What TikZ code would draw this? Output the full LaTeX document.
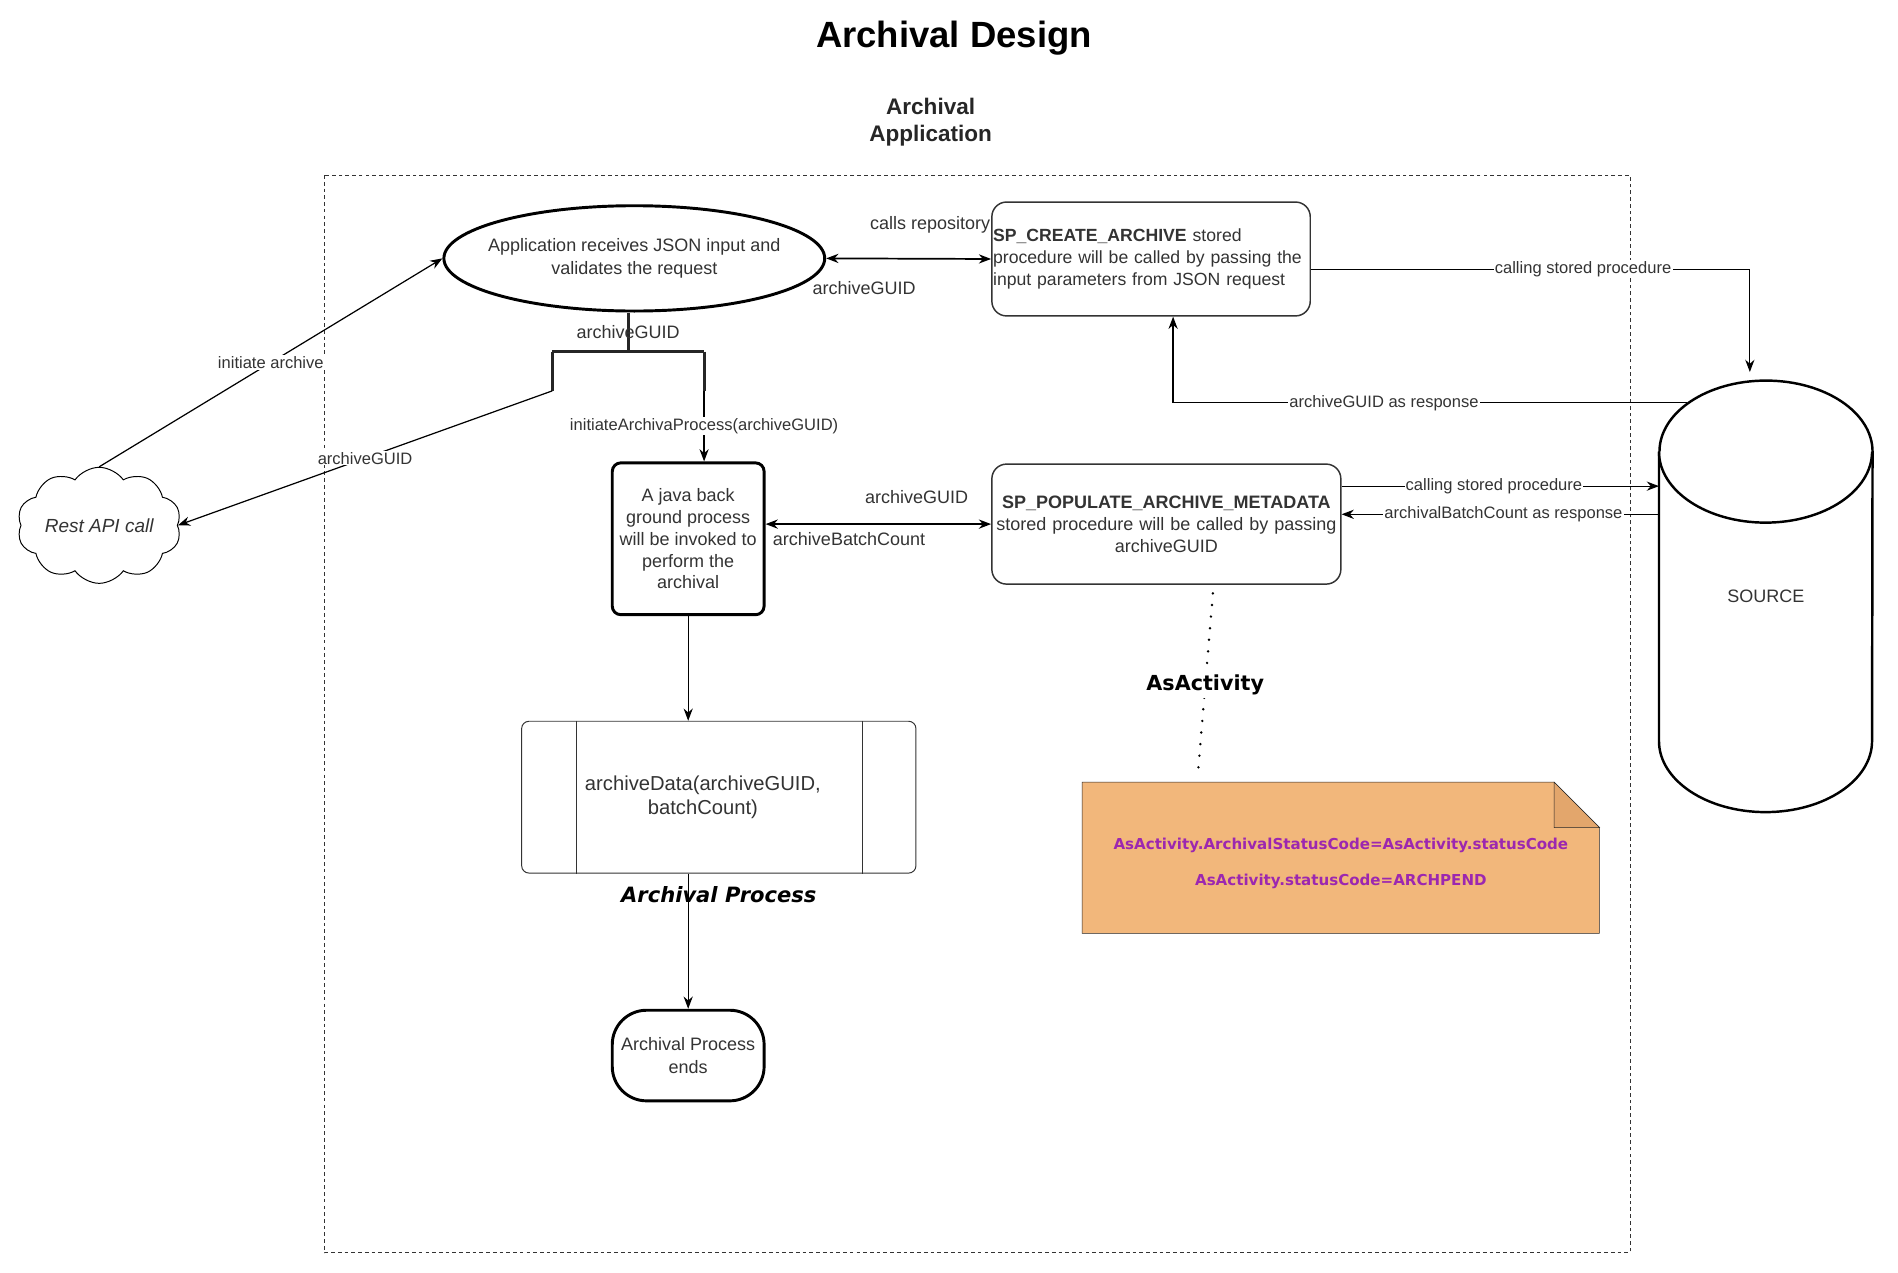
\documentclass[tikz,border=0pt]{standalone}
\usepackage{fontspec}
\setmainfont{Liberation Sans}
\newfontfamily\notefont{DejaVu Sans}
\usepackage{tikz}
\usetikzlibrary{shapes}
\usetikzlibrary{shapes.geometric}
\usetikzlibrary{shapes.symbols}
\usetikzlibrary{arrows.meta}
\usetikzlibrary{backgrounds}
\definecolor{txtgray}{HTML}{333333}
\definecolor{notefill}{HTML}{F2B77B}
\definecolor{notefold}{HTML}{E3A66C}
\definecolor{notetext}{HTML}{9C27B0}
\newcommand{\fbody}{\fontsize{14.7}{18}\selectfont}
\newcommand{\fsmall}{\fontsize{13.5}{16}\selectfont}
\newcommand{\fproc}{\fontsize{16.5}{19}\selectfont}
\tikzset{
    titlenode/.style = {align=center, font=\fontsize{29.8}{34}\selectfont\bfseries, text=black},
    apptitle/.style = {align=center, font=\fontsize{18.4}{22}\selectfont\bfseries, text=black!85},
    appnode/.style = {ellipse, line width=2.4pt, draw=black, align=center, inner xsep=-10pt, inner ysep=0pt, minimum width=311, minimum height=86, font=\fontsize{14.7}{19}\selectfont, text=txtgray},
    cloudnode/.style = {cloud, cloud puffs=10, cloud puff arc=110, aspect=1.6, thick, draw=black, minimum width=134, minimum height=86, inner sep=0pt, font=\fontsize{15.5}{18}\selectfont\itshape, text=txtgray},
    javanode/.style = {rectangle, rounded corners=7, line width=2.4pt, draw=black, align=center, minimum width=124, minimum height=124, inner sep=0pt, font=\fontsize{14.7}{17.8}\selectfont, text=txtgray},
    spnode/.style = {rectangle, rounded corners=12, line width=1.2pt, draw=black!80, inner ysep=3pt, font=\fbody, text=txtgray},
    dbnode/.style = {rectangle, minimum width=174, minimum height=352, inner sep=0pt, font=\fbody, text=txtgray},
    dbline/.style = {line width=2pt, black},
    procnode/.style = {rectangle, rounded corners=6, thick, draw=black!80, minimum width=322, minimum height=124},
    proctext/.style = {align=center, font=\fproc, text=txtgray},
    endnode/.style = {rectangle, rounded corners=28, line width=2.4pt, draw=black, align=center, minimum width=124, minimum height=74, inner sep=0pt, font=\fbody, text=txtgray},
    notenode/.style = {rectangle, minimum width=422, minimum height=123, align=center, font=\notefont\fontsize{12.3}{15}\selectfont\bfseries, text=notetext},
    asact/.style = {fill=white, inner sep=2pt, font=\notefont\fontsize{16.9}{20}\selectfont\bfseries, text=black},
    aplabel/.style = {font=\notefont\fontsize{17.2}{20}\selectfont\bfseries\itshape, text=black},
    lblsmall/.style = {fill=white, inner sep=1pt, font=\fsmall, text=txtgray},
    lblbig/.style = {inner sep=1pt, font=\fbody, text=txtgray},
    edgen/.style = {-{Stealth[length=10pt,width=7.5pt]}, line width=1pt, black},
    edgenb/.style = {{Stealth[length=10pt,width=7.5pt]}-{Stealth[length=10pt,width=7.5pt]}, line width=1.4pt, black},
    forkline/.style = {-, line width=2.4pt, black!85},
    thinline/.style = {-, thick, black!80},
    edgedot/.style = {-, line width=2.2pt, black, line cap=round, dash pattern=on 0pt off 9.5pt}, % note link
    framebox/.style = {-, thin, black!80, dash pattern=on 3pt off 2.5pt}
}

\begin{document}
\begin{tikzpicture}[x=1pt, y=-1pt]
\useasboundingbox (0, 0) rectangle (1550, 1038.8);
\draw[framebox] (265, 143) rectangle (1331, 1023);

\node[titlenode] at (779, 31) (title) {Archival Design};
\node[apptitle] at (760, 100) (apptitle) {Archival\\Application};
\node[appnode] at (518, 211) (app) {Application receives JSON input and\\validates the request};
\node[cloudnode] at (81, 429) (rest) {Rest API call};
\node[javanode] at (562, 440) (java) {A java back\\ground process\\will be invoked to\\perform the\\archival};
\node[spnode, text width=258, inner xsep=1pt, align=left, minimum height=93, font=\fontsize{14.4}{18}\selectfont] at (940, 211.5) (spcreate) {\textbf{SP\_CREATE\_ARCHIVE} stored\\procedure will be called by passing the\\input parameters from JSON request};
\node[spnode, text width=279, inner xsep=3pt, align=center, minimum height=98] at (952.5, 428) (sppop) {\textbf{SP\_POPULATE\_ARCHIVE\_METADATA}\\stored procedure will be called by passing\\archiveGUID};
\node[dbnode] at (1442, 487) (source) {SOURCE};
\node[procnode] at (587, 651) (proc) {};
\node[proctext] at ([xshift=-13]proc.center) (proctxt) {archiveData(archiveGUID,\\batchCount)};
\node[aplabel] at (587, 731) (aplbl) {Archival Process};
\node[endnode] at (562, 862) (done) {Archival Process\\ends};
\node[notenode] at (1095, 705) (note) {AsActivity.ArchivalStatusCode=AsActivity.statusCode\\[15pt]AsActivity.statusCode=ARCHPEND};

% source cylinder
\draw[dbline] ([yshift=-58]source.north west) -- ([yshift=58]source.south west) arc[start angle=180, end angle=360, x radius=87pt, y radius=58pt] -- ([yshift=-58]source.north east) arc[start angle=0, end angle=180, x radius=87pt, y radius=58pt];
\draw[dbline] ([yshift=-58]source.north west) arc[start angle=180, end angle=360, x radius=87pt, y radius=58pt];

\begin{scope}[on background layer]
\draw[thin, black!85, fill=notefill] ([yshift=4.5]note.north west) -- ([xshift=-37,yshift=4.5]note.north east) -- ([yshift=-32.5]note.north east) -- ([yshift=4.5]note.south east) -- ([yshift=4.5]note.south west) -- cycle;
\draw[thin, black!85, fill=notefold] ([xshift=-37,yshift=4.5]note.north east) -- ([xshift=-37,yshift=-32.5]note.north east) -- ([yshift=-32.5]note.north east) -- cycle;
\end{scope}

\draw[thinline] ([xshift=45]proc.north west) -- ([xshift=45]proc.south west);
\draw[thinline] ([xshift=-44]proc.north east) -- ([xshift=-44]proc.south east);

\draw[edgen] (rest.north) -- node[lblsmall] {initiate archive} (app.west);
\draw[forkline] ([xshift=-5]app.south) -- node[lblbig] {archiveGUID} ++(0, 32) coordinate (forkc);
\draw[forkline] ([xshift=-62]forkc) coordinate (forkl) -- ([xshift=62]forkc) coordinate (forkr);
\draw[forkline] (forkl) -- ++(0, 32) coordinate (forklb);
\draw[forkline] (forkr) -- ++(0, 32) coordinate (forkrb);
\draw[edgen] (forklb) -- node[lblsmall] {archiveGUID} (rest.east);
\draw[edgen] (forkrb) -- node[lblsmall] {initiateArchivaProcess(archiveGUID)} (forkrb |- java.north);

\draw[edgenb] (app.east) -- node[lblbig, pos=0.63, yshift=28] {calls repository} node[lblbig, pos=0.23, yshift=-24] {archiveGUID} (spcreate.west);
\draw[edgen, shorten >=7pt] ([yshift=-8.5]spcreate.east) -| node[lblsmall, pos=0.31] {calling stored procedure} ([xshift=-13]source.north);
\draw[edgen] ([xshift=-64,yshift=158]source.center) -| node[lblsmall, pos=0.295] {archiveGUID as response} ([xshift=18]spcreate.south);

\draw[edgenb] ([yshift=12]java.east) -- node[lblbig, pos=0.67, yshift=22] {archiveGUID} node[lblbig, pos=0.37, yshift=-12] {archiveBatchCount} ([yshift=12]java.east -| sppop.west);
\draw[edgen] ([yshift=31]sppop.east) -- node[lblsmall, pos=0.48] {calling stored procedure} ([yshift=31]sppop.east -| source.west);
\draw[edgen] ([yshift=8]sppop.east -| source.west) -- node[lblsmall, pos=0.49] {archivalBatchCount as response} ([yshift=8]sppop.east);

\draw[edgedot] ([xshift=38,yshift=-7]sppop.south) -- node[asact] {AsActivity} ([xshift=-117,yshift=8.5]note.north);

\draw[edgen] (java.south) -- (java.south |- proc.north);
\draw[edgen] (done.north |- proc.south) -- (done.north);
\end{tikzpicture}
\end{document}
